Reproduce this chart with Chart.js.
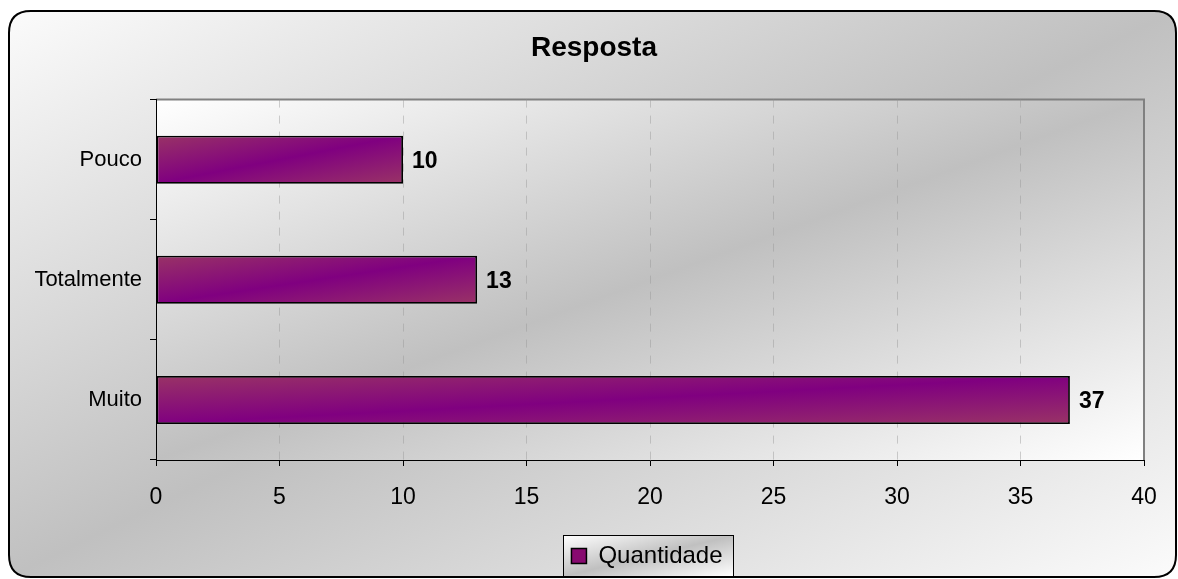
<!DOCTYPE html>
<html>
<head>
<meta charset="utf-8">
<script src="https://cdn.jsdelivr.net/npm/chart.js@4"></script>
<style>
  html, body { margin: 0; padding: 0; background: #ffffff; }
  #wrap { width: 1178px; height: 579px; }
</style>
</head>
<body>
<div id="wrap"><canvas id="chart" width="1178" height="579"></canvas></div>
<script>
// Resposta - horizontal bar chart
const categories = ['Pouco', 'Totalmente', 'Muito'];
const quantidade = [10, 13, 37];
const xTicks = [0, 5, 10, 15, 20, 25, 30, 35, 40];
const seriesName = 'Quantidade';

const FONT = '"Liberation Sans", Arial, sans-serif';
const CAT_PCT = 0.8;
const BAR_PCT = 0.5;

// Excel-style "diagonal up" shading: light in top-left and bottom-right corners,
// the middle colour running along the other diagonal
function diagGradient(ctx, left, top, w, h, edge, mid) {
    const k = 2 / (1 / (w * w) + 1 / (h * h));
    const g = ctx.createLinearGradient(left, top, left + k / w, top + k / h);
    g.addColorStop(0, edge);
    g.addColorStop(0.5, mid);
    g.addColorStop(1, edge);
    return g;
}

// gradient for each bar, worked out from the scales
function barFill(context) {
    const chart = context.chart;
    const xs = chart.scales.x;
    const ys = chart.scales.y;
    if (!xs || !ys || context.raw === undefined) return '#800080';
    const x0 = xs.getPixelForValue(0);
    const x1 = xs.getPixelForValue(context.raw);
    const yc = ys.getPixelForValue(context.dataIndex);
    const h = (ys.bottom - ys.top) / categories.length * CAT_PCT * BAR_PCT;
    const w = Math.max(Math.abs(x1 - x0), 1);
    return diagGradient(chart.ctx, Math.min(x0, x1), yc - h / 2, w, h, '#993366', '#800080');
}

function roundRect(ctx, x, y, w, h, r) {
    ctx.beginPath();
    ctx.moveTo(x + r, y);
    ctx.lineTo(x + w - r, y);
    ctx.quadraticCurveTo(x + w, y, x + w, y + r);
    ctx.lineTo(x + w, y + h - r);
    ctx.quadraticCurveTo(x + w, y + h, x + w - r, y + h);
    ctx.lineTo(x + r, y + h);
    ctx.quadraticCurveTo(x, y + h, x, y + h - r);
    ctx.lineTo(x, y + r);
    ctx.quadraticCurveTo(x, y, x + r, y);
    ctx.closePath();
}

// backgrounds: chart frame, plot area and legend box
const backgroundPlugin = {
    id: 'excelBackground',
    afterLayout(chart) {
        // title sits a little right of the plot centre in the original
        const tb = chart.titleBlock;
        if (tb) {
            tb.left = 10;
            tb.right = 1178;
            tb.width = tb.right - tb.left;
        }
        // centre the legend under the plot area, like the original
        const lg = chart.legend;
        const ca = chart.chartArea;
        const pad = lg.options.labels.padding;
        lg.left = ca.left - pad + 2;
        lg.right = ca.right + 2;
        lg.width = lg.right - lg.left;
        lg.top = 534;
        lg.bottom = lg.top + lg.height;
    },
    beforeDraw(chart) {
        const c = chart.ctx;
        const ca = chart.chartArea;
        c.save();
        c.fillStyle = '#ffffff';
        c.fillRect(0, 0, chart.width, chart.height);

        // outer frame
        roundRect(c, 9, 11, 1167, 566, 22);
        c.fillStyle = diagGradient(c, 9, 11, 1167, 566, '#fbfbfb', '#c0c0c0');
        c.fill();
        c.lineWidth = 2;
        c.strokeStyle = '#000000';
        c.stroke();

        // plot area
        c.fillStyle = diagGradient(c, ca.left, ca.top, ca.right - ca.left, ca.bottom - ca.top, '#ffffff', '#c0c0c0');
        c.fillRect(ca.left, ca.top, ca.right - ca.left, ca.bottom - ca.top);
        c.beginPath();
        c.moveTo(ca.left, ca.top);
        c.lineTo(ca.right, ca.top);
        c.lineTo(ca.right, ca.bottom);
        c.lineWidth = 2;
        c.strokeStyle = '#808080';
        c.stroke();

        // legend box around the legend item
        const hb = chart.legend.legendHitBoxes && chart.legend.legendHitBoxes[0];
        let bx = 566.5, bw = 169;
        if (hb) {
            bx = Math.round(hb.left - 8) + 0.5;
            bw = Math.round(hb.width + 19);
        }
        const by = 535.5;
        const bh = 41;
        c.fillStyle = diagGradient(c, bx, by, bw, bh, '#ffffff', '#c0c0c0');
        c.fillRect(bx, by, bw, bh);
        c.lineWidth = 1;
        c.strokeStyle = '#000000';
        c.strokeRect(bx, by, bw, bh);
        c.restore();
    },
    afterDatasetsDraw(chart) {
        // value labels to the right of each bar
        const c = chart.ctx;
        const meta = chart.getDatasetMeta(0);
        c.save();
        c.font = 'bold 23px ' + FONT;
        c.fillStyle = '#000000';
        c.textAlign = 'left';
        c.textBaseline = 'middle';
        meta.data.forEach((bar, i) => {
            c.fillText(String(quantidade[i]), bar.x + 9, bar.y + 2);
        });
        c.restore();
    }
};

const ctx = document.getElementById('chart').getContext('2d');
new Chart(ctx, {
    type: 'bar',
    data: {
        labels: categories,
        datasets: [{
            label: seriesName,
            data: quantidade,
            backgroundColor: barFill,
            borderColor: '#000000',
            borderWidth: 1.8,
            borderSkipped: false,
            categoryPercentage: CAT_PCT,
            barPercentage: BAR_PCT
        }]
    },
    options: {
        indexAxis: 'y',
        responsive: false,
        animation: false,
        events: [],
        layout: { padding: { left: 0, right: 34, top: 0, bottom: 0 } },
        scales: {
            x: {
                type: 'linear',
                min: 0,
                max: 40,
                afterBuildTicks: (scale) => {
                    scale.ticks = xTicks.map(v => ({ value: v }));
                },
                afterFit: (scale) => {
                    scale.height = 119 - scale.chart.legend.height;
                },
                ticks: {
                    color: '#000000',
                    font: { family: FONT, size: 23 },
                    padding: 18
                },
                grid: {
                    color: (c) => (c.tick && (c.tick.value === 0 || c.tick.value === 40)) ? 'rgba(0,0,0,0)' : 'rgba(150,150,150,0.45)',
                    tickColor: '#000000',
                    tickLength: 6,
                    drawTicks: true,
                    lineWidth: 1
                },
                border: { display: true, color: '#000000', dash: [8, 8] }
            },
            y: {
                afterFit: (scale) => { scale.width = 156; },
                ticks: {
                    color: '#000000',
                    font: { family: FONT, size: 22 },
                    padding: 8
                },
                grid: {
                    display: true,
                    offset: true,
                    drawOnChartArea: false,
                    tickColor: '#000000',
                    tickLength: 6
                },
                border: { display: true, color: '#000000' }
            }
        },
        plugins: {
            title: {
                display: true,
                text: 'Resposta',
                color: '#000000',
                font: { family: FONT, size: 28, weight: 'bold', lineHeight: 1.2 },
                padding: { top: 31, bottom: 35 }
            },
            legend: {
                display: true,
                position: 'bottom',
                labels: {
                    color: '#000000',
                    font: { family: FONT, size: 24 },
                    boxWidth: 15,
                    boxHeight: 15,
                    padding: 10,
                    generateLabels: () => [{
                        text: seriesName,
                        fillStyle: '#880a70',
                        strokeStyle: '#000000',
                        lineWidth: 1.5,
                        hidden: false,
                        datasetIndex: 0
                    }]
                }
            },
            tooltip: { enabled: false }
        }
    },
    plugins: [backgroundPlugin]
});
</script>
</body>
</html>
